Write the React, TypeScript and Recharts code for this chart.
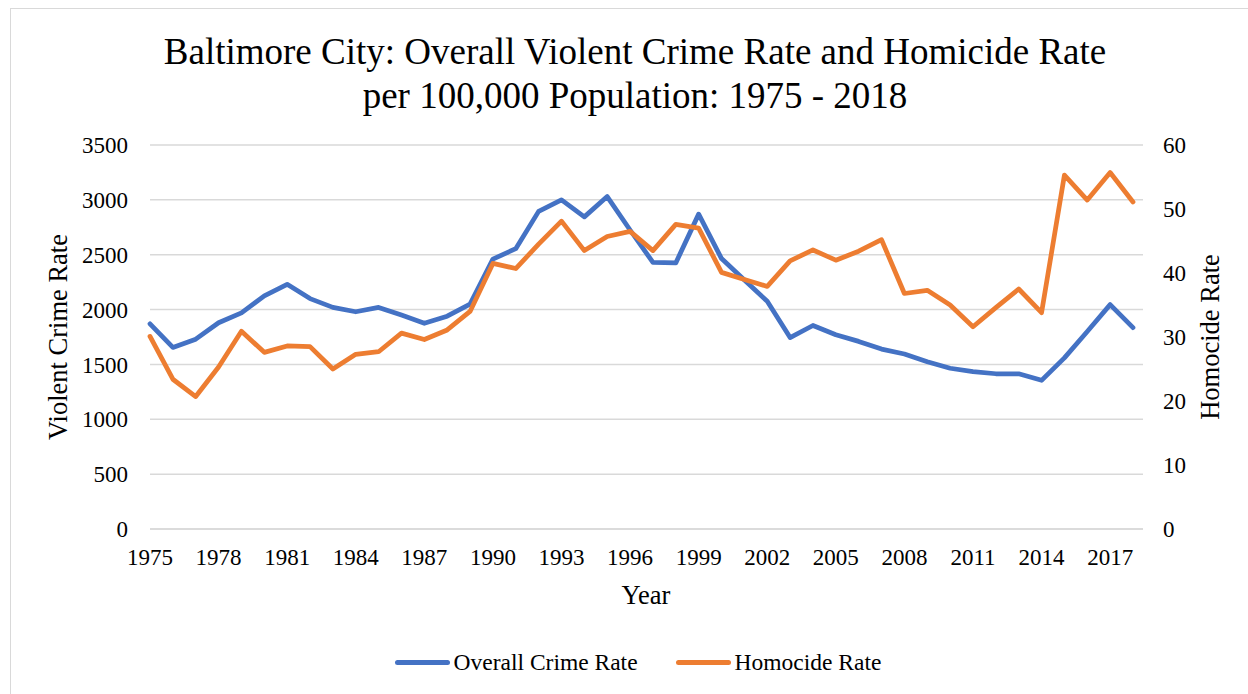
import { LineChart, Line, XAxis, YAxis, CartesianGrid, Legend } from "recharts";

const FONT = '"Liberation Serif", "Times New Roman", serif';
const BLUE = "#4472C4";
const ORANGE = "#ED7D31";
const GRID = "#d9d9d9";

const years = [
  1975, 1976, 1977, 1978, 1979, 1980, 1981, 1982, 1983, 1984, 1985, 1986, 1987, 1988, 1989,
  1990, 1991, 1992, 1993, 1994, 1995, 1996, 1997, 1998, 1999, 2000, 2001, 2002, 2003, 2004,
  2005, 2006, 2007, 2008, 2009, 2010, 2011, 2012, 2013, 2014, 2015, 2016, 2017, 2018,
];

// violent crime per 100k (left axis)
const crimeRate = [
  1870, 1655, 1730, 1880, 1970, 2125, 2230, 2100, 2020, 1980, 2020, 1950, 1875, 1940, 2050,
  2460, 2555, 2895, 3000, 2845, 3030, 2725, 2430, 2425, 2870, 2465, 2270, 2075, 1745, 1855,
  1770, 1710, 1640, 1595, 1525, 1465, 1435, 1415, 1415, 1355, 1560, 1800, 2045, 1835,
];

// homicide per 100k (right axis)
const homicideRate = [
  30.1, 23.4, 20.7, 25.3, 30.9, 27.6, 28.6, 28.5, 25.0, 27.3, 27.7, 30.6, 29.6, 31.1, 34.0,
  41.5, 40.7, 44.5, 48.1, 43.5, 45.7, 46.5, 43.5, 47.6, 47.0, 40.1, 39.0, 37.9, 41.9, 43.6,
  42.0, 43.4, 45.2, 36.8, 37.3, 35.0, 31.6, 34.6, 37.5, 33.8, 55.3, 51.4, 55.7, 51.1,
];

const leftTicks = [0, 500, 1000, 1500, 2000, 2500, 3000, 3500];
const rightTicks = [0, 10, 20, 30, 40, 50, 60];

const series = [
  { key: "crime", name: "Overall Crime Rate", color: BLUE },
  { key: "homicide", name: "Homocide Rate", color: ORANGE },
];

const data = years.map((year, i) => ({
  year,
  crime: crimeRate[i],
  homicide: homicideRate[i],
}));

const tickStyle = { fontFamily: FONT, fontSize: 23, fill: "#000" };

function LegendBox() {
  return (
    <div style={{ display: "flex", justifyContent: "center", alignItems: "center", fontFamily: FONT, fontSize: 23.5, lineHeight: "28px", color: "#000" }}>
      {series.map((s, i) => (
        <div key={s.key} style={{ display: "flex", alignItems: "center", marginRight: i === 0 ? 38 : 0 }}>
          <span style={{ display: "inline-block", width: 55, height: 5, borderRadius: 3, background: s.color, marginRight: 4 }} />
          <span>{s.name}</span>
        </div>
      ))}
    </div>
  );
}

function AxisTitle({ text, x, y, rotate = 0 }: { text: string; x: number; y: number; rotate?: number }) {
  return (
    <div
      style={{
        position: "absolute",
        left: x,
        top: y,
        transform: `translate(-50%, -50%) rotate(${rotate}deg)`,
        whiteSpace: "nowrap",
        fontFamily: FONT,
        fontSize: 26.5,
        color: "#000",
      }}
    >
      {text}
    </div>
  );
}

export default function App() {
  return (
    <div style={{ position: "absolute", left: 0, top: 0, width: 1248, height: 694, background: "#fff", overflow: "hidden" }}>
      <div style={{ position: "absolute", left: 10, top: 8, width: 1260, height: 720, border: `1.5px solid ${GRID}` }} />
      <LineChart width={1248} height={694} data={data} margin={{ top: 145, right: 20, bottom: 125, left: 12 }}>
        <CartesianGrid yAxisId="left" vertical={false} stroke={GRID} strokeWidth={1.5} />
        <XAxis
          dataKey="year"
          interval={2}
          padding={{ left: 0, right: 10 }}
          height={40}
          tickLine={false}
          tickSize={8}
          tickMargin={11.5}
          axisLine={{ stroke: GRID, strokeWidth: 1.5 }}
          tick={tickStyle}
        />
        <YAxis
          yAxisId="left"
          domain={[0, 3500]}
          ticks={leftTicks}
          width={138}
          axisLine={false}
          tickLine={false}
          tickSize={10}
          tickMargin={12}
          tick={tickStyle}
        />
        <YAxis
          yAxisId="right"
          orientation="right"
          domain={[0, 60]}
          ticks={rightTicks}
          width={85}
          axisLine={false}
          tickLine={false}
          tickSize={10}
          tickMargin={10}
          tick={{ ...tickStyle, textAnchor: "start" }}
        />
        <Line
          yAxisId="left"
          dataKey="crime"
          name="Overall Crime Rate"
          stroke={BLUE}
          strokeWidth={4.75}
          strokeLinecap="round"
          strokeLinejoin="round"
          dot={false}
          activeDot={false}
          isAnimationActive={false}
        />
        <Line
          yAxisId="right"
          dataKey="homicide"
          name="Homocide Rate"
          stroke={ORANGE}
          strokeWidth={4.75}
          strokeLinecap="round"
          strokeLinejoin="round"
          dot={false}
          activeDot={false}
          isAnimationActive={false}
        />
        <Legend
          verticalAlign="middle"
          align="center"
          content={() => <LegendBox />}
          wrapperStyle={{ left: 10, top: 648, width: 1256 }}
        />
      </LineChart>
      <div
        style={{
          position: "absolute",
          left: 0,
          top: 30,
          width: 1270,
          textAlign: "center",
          fontFamily: FONT,
          fontSize: 37,
          lineHeight: "44px",
          color: "#000",
        }}
      >
        Baltimore City: Overall Violent Crime Rate and Homicide Rate
        <br />
        per 100,000 Population: 1975 - 2018
      </div>
      <AxisTitle text="Violent Crime Rate" x={58} y={337} rotate={-90} />
      <AxisTitle text="Homocide Rate" x={1210} y={337} rotate={-90} />
      <AxisTitle text="Year" x={646} y={595} />
    </div>
  );
}
